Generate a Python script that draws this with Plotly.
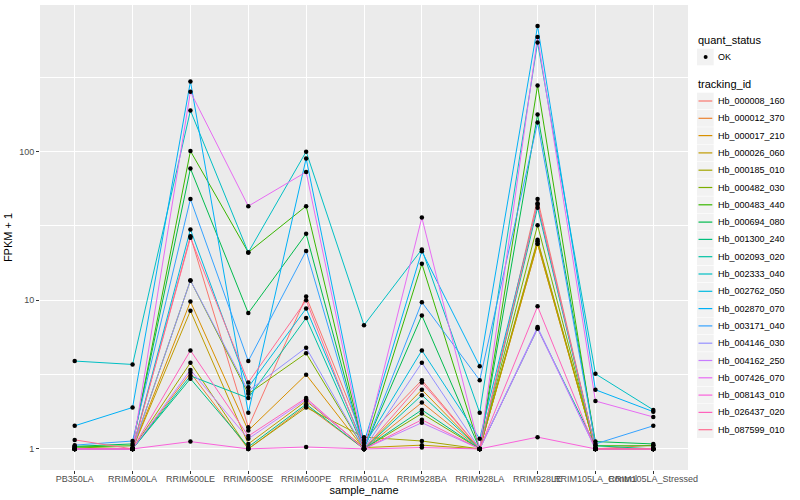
import plotly.graph_objects as go

samples = ["PB350LA", "RRIM600LA", "RRIM600LE", "RRIM600SE", "RRIM600PE", "RRIM901LA",
           "RRIM928BA", "RRIM928LA", "RRIM928LE", "RRIM105LA_Control", "RRIM105LA_Stressed"]

tracking_ids = ["Hb_000008_160", "Hb_000012_370", "Hb_000017_210", "Hb_000026_060", "Hb_000185_010",
                "Hb_000482_030", "Hb_000483_440", "Hb_000694_080", "Hb_001300_240", "Hb_002093_020",
                "Hb_002333_040", "Hb_002762_050", "Hb_002870_070", "Hb_003171_040", "Hb_004146_030",
                "Hb_004162_250", "Hb_007426_070", "Hb_008143_010", "Hb_026437_020", "Hb_087599_010"]

colors = ["#F8766D", "#EA8331", "#D89000", "#C09B00", "#A3A500", "#7CAE00", "#39B600", "#00BB4E",
          "#00BF7D", "#00C1A3", "#00BFC4", "#00BAE0", "#00B0F6", "#35A2FF", "#9590FF", "#C77CFF",
          "#E76BF3", "#FA62DB", "#FF62BC", "#FF6C91"]

quant_status = ["OK"]

# FPKM + 1 per sample (order as in `samples`)
hb_000008_160 = [1.0, 1.0, 27, 1.4, 10.6, 1.15, 2.9, 1.0, 48, 1.0, 1.06]
hb_000012_370 = [1.0, 1.0, 3.25, 1.0, 1.95, 1.0, 2.05, 1.0, 24, 1.0, 1.0]
hb_000017_210 = [1.0, 1.0, 9.8, 1.33, 3.16, 1.0, 2.5, 1.0, 25, 1.0, 1.0]
hb_000026_060 = [1.0, 1.0, 8.5, 1.08, 2.1, 1.02, 1.06, 1.0, 24, 1.0, 1.0]
hb_000185_010 = [1.0, 1.0, 3.8, 1.0, 1.9, 1.2, 1.13, 1.0, 25.5, 1.0, 1.0]
hb_000482_030 = [1.03, 1.0, 13.6, 2.35, 4.4, 1.0, 1.73, 1.0, 32, 1.0, 1.0]
hb_000483_440 = [1.03, 1.05, 101, 21, 43, 1.0, 17.6, 1.0, 279, 1.05, 1.05]
hb_000694_080 = [1.04, 1.08, 77, 8.2, 28, 1.0, 7.9, 1.0, 178, 1.12, 1.08]
hb_001300_240 = [1.0, 1.0, 2.97, 1.03, 2.0, 1.0, 1.83, 1.0, 6.45, 1.05, 1.0]
hb_002093_020 = [1.0, 1.0, 3.1, 2.2, 7.6, 1.0, 2.3, 1.0, 42, 1.0, 1.0]
hb_002333_040 = [3.9, 3.7, 189, 21, 100, 6.8, 22, 1.75, 543, 3.2, 1.83]
hb_002762_050 = [1.0, 1.0, 30, 2.6, 8.8, 1.05, 4.6, 1.17, 44, 1.0, 1.0]
hb_002870_070 = [1.43, 1.9, 297, 1.75, 90, 1.1, 21.4, 3.6, 700, 2.5, 1.78]
hb_003171_040 = [1.06, 1.13, 48, 3.9, 21.5, 1.0, 9.7, 2.9, 157, 1.08, 1.43]
hb_004146_030 = [1.0, 1.0, 13.6, 2.45, 4.8, 1.0, 3.8, 1.0, 6.6, 1.0, 1.0]
hb_004162_250 = [1.0, 1.0, 3.4, 1.17, 2.15, 1.0, 1.5, 1.0, 6.45, 1.0, 1.0]
hb_007426_070 = [1.0, 1.0, 253, 43, 73, 1.0, 36, 1.0, 590, 2.1, 1.64]
hb_008143_010 = [1.0, 1.0, 1.12, 1.0, 1.03, 1.0, 1.02, 1.0, 1.2, 1.0, 1.0]
hb_026437_020 = [1.0, 1.0, 4.6, 1.22, 2.2, 1.0, 1.57, 1.0, 9.1, 1.0, 1.0]
hb_087599_010 = [1.15, 1.0, 26.4, 2.8, 10, 1.0, 2.8, 1.0, 45, 1.0, 1.0]

series = [hb_000008_160, hb_000012_370, hb_000017_210, hb_000026_060, hb_000185_010,
          hb_000482_030, hb_000483_440, hb_000694_080, hb_001300_240, hb_002093_020,
          hb_002333_040, hb_002762_050, hb_002870_070, hb_003171_040, hb_004146_030,
          hb_004162_250, hb_007426_070, hb_008143_010, hb_026437_020, hb_087599_010]

FONT = "Liberation Sans, Arial, sans-serif"
W, H = 800, 500
ML, MR, MT, MB = 40, 112, 5, 30
PW, PH = W - ML - MR, H - MT - MB


def px(xp):
    return (xp - ML) / PW


def py(yp):
    return (H - MB - yp) / PH


fig = go.Figure()

for name, vals, col in zip(tracking_ids, series, colors):
    fig.add_trace(go.Scatter(
        x=samples, y=vals, mode="lines", name=name,
        line=dict(color=col, width=1), showlegend=False,
    ))

pts_x = [s for vals in series for s in samples]
pts_y = [v for vals in series for v in vals]
fig.add_trace(go.Scatter(
    x=pts_x, y=pts_y, mode="markers", name=quant_status[0],
    marker=dict(color="#000000", size=4.5), showlegend=False,
))

# ---- manual ggplot-style legend (layout only) ----
shapes = []
annotations = []
KEY_L, KEY = 697, 17.3
TEXT_X = KEY_L + KEY + 2


def key_box(cy):
    shapes.append(dict(type="rect", xref="paper", yref="paper",
                       x0=px(KEY_L), x1=px(KEY_L + KEY - 0.6),
                       y0=py(cy + KEY / 2 - 0.3), y1=py(cy - KEY / 2 + 0.3),
                       fillcolor="#F2F2F2", line=dict(width=0), layer="above"))


def label(text, xp, yp, size, color="#000000"):
    annotations.append(dict(text=text, xref="paper", yref="paper", x=px(xp), y=py(yp),
                            xanchor="left", yanchor="middle", showarrow=False,
                            font=dict(size=size, color=color, family=FONT)))


label("quant_status", KEY_L - 1, 40, 11)
for i, q in enumerate(quant_status):
    cy = 57 + i * KEY
    key_box(cy)
    cx = KEY_L + KEY / 2
    shapes.append(dict(type="circle", xref="paper", yref="paper",
                       x0=px(cx - 2), x1=px(cx + 2), y0=py(cy + 2), y1=py(cy - 2),
                       fillcolor="#000000", line=dict(width=0), layer="above"))
    label(q, TEXT_X, cy, 9)

label("tracking_id", KEY_L - 1, 84, 11)
for i, (name, col) in enumerate(zip(tracking_ids, colors)):
    cy = 101 + i * KEY
    key_box(cy)
    shapes.append(dict(type="line", xref="paper", yref="paper",
                       x0=px(KEY_L + 1.5), x1=px(KEY_L + KEY - 2), y0=py(cy), y1=py(cy),
                       line=dict(color=col, width=1.2), layer="above"))
    label(name, TEXT_X, cy, 9)

fig.update_layout(
    width=W, height=H,
    margin=dict(l=ML, r=MR, t=MT, b=MB, autoexpand=False),
    paper_bgcolor="#FFFFFF",
    plot_bgcolor="#EBEBEB",
    font=dict(family=FONT, size=9, color="#000000"),
    showlegend=False,
    shapes=shapes,
    annotations=annotations,
)

fig.update_xaxes(
    type="category", categoryorder="array", categoryarray=samples,
    range=[-0.6, len(samples) - 0.4],
    showgrid=True, gridcolor="#FFFFFF", gridwidth=1,
    ticks="outside", ticklen=3, tickcolor="#333333", tickwidth=1,
    tickangle=0, tickfont=dict(size=9, color="#4D4D4D"), ticklabelstandoff=-3,
    title=dict(text="sample_name", font=dict(size=11, color="#000000"), standoff=0),
    zeroline=False, showline=False,
)

fig.update_yaxes(
    type="log", range=[-0.142, 2.987],
    tickmode="array", tickvals=[1, 10, 100], ticktext=["1", "10", "100"],
    showgrid=True, gridcolor="#FFFFFF", gridwidth=1.1,
    minor=dict(tickmode="array", tickvals=[10 ** 0.5, 10 ** 1.5, 10 ** 2.5],
               showgrid=True, gridcolor="#FFFFFF", gridwidth=0.5, ticks=""),
    ticks="outside", ticklen=3, tickcolor="#333333", tickwidth=1,
    tickfont=dict(size=9, color="#4D4D4D"),
    title=dict(text="FPKM + 1", font=dict(size=11, color="#000000"), standoff=4),
    zeroline=False, showline=False,
)

fig.write_html("out.html", config={"displayModeBar": False},
               post_script="document.body.style.margin='0';")
